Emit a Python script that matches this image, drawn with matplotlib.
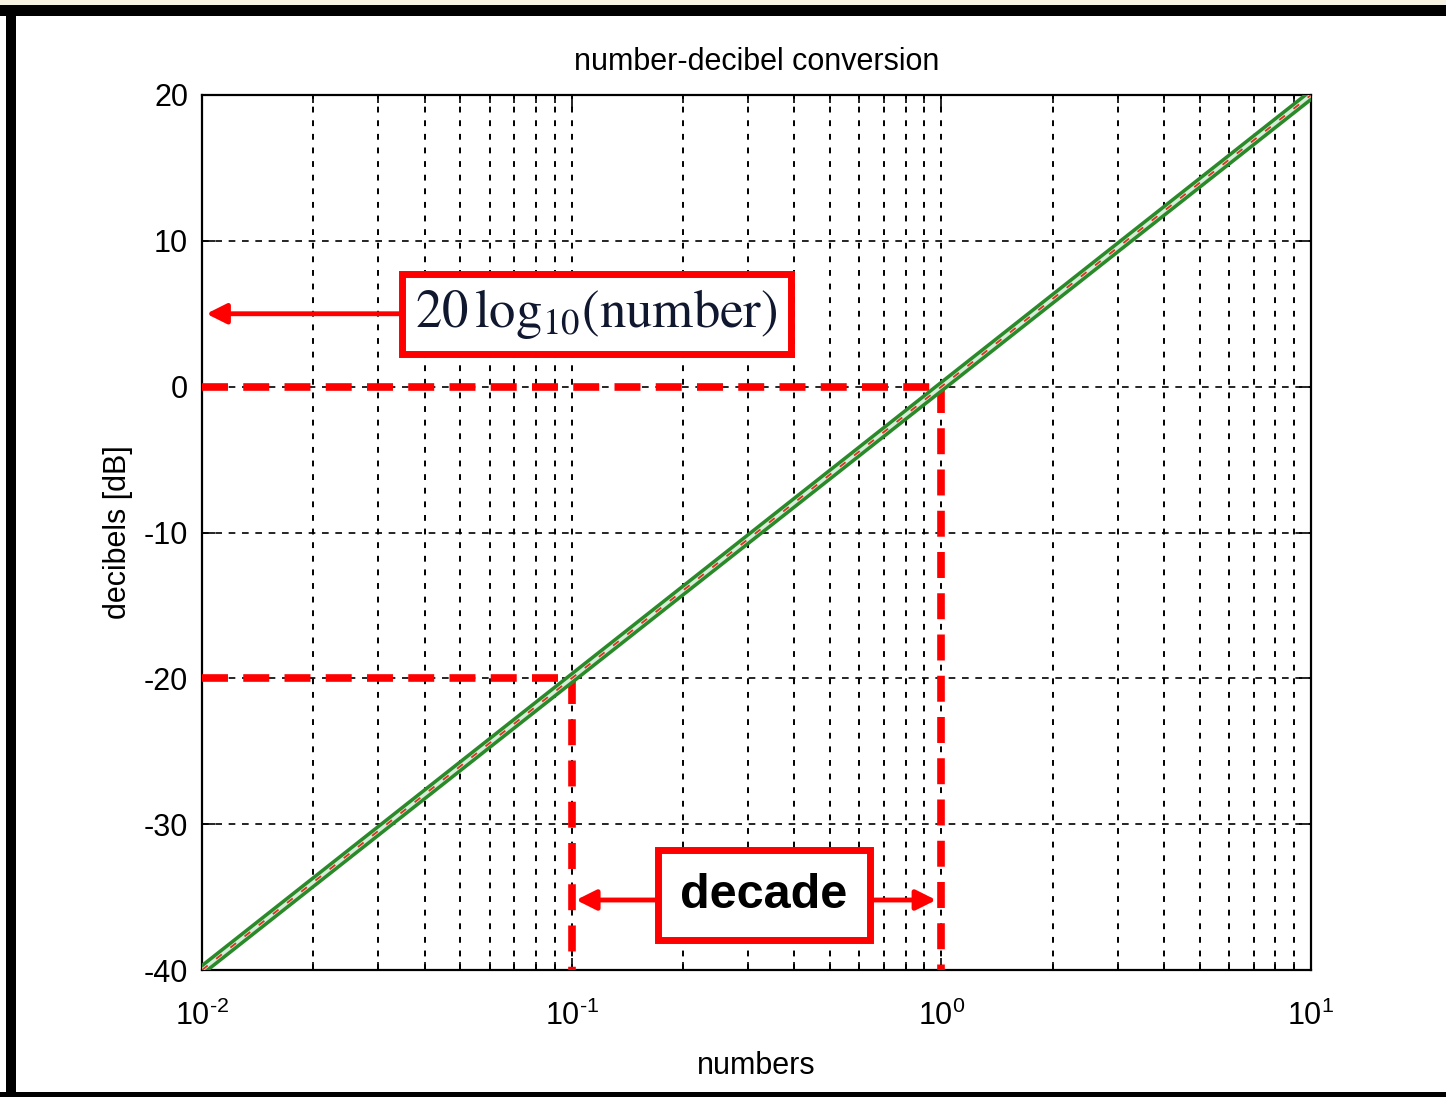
import matplotlib.pyplot as plt
import matplotlib.patches as patches
from matplotlib.ticker import FuncFormatter
import numpy as np

# numbers and their value in decibels
numbers = [0.01, 0.1, 1, 10]
decibels = [-40, -20, 0, 20]

# points marked with red guide lines
mark_x = [0.1, 1]
mark_y = [-20, 0]

y_ticks = [-40, -30, -20, -10, 0, 10, 20]

plt.rcParams['font.family'] = ['Liberation Sans', 'DejaVu Sans']
plt.rcParams['axes.unicode_minus'] = False
plt.rcParams['mathtext.fontset'] = 'custom'
plt.rcParams['mathtext.rm'] = 'Liberation Sans'
plt.rcParams['mathtext.it'] = 'Liberation Sans'
plt.rcParams['mathtext.bf'] = 'Liberation Sans:bold'

fig = plt.figure(figsize=(14.46, 10.97), dpi=100, facecolor='white')
ax = fig.add_axes([202 / 1446, 1 - 970 / 1097, 1109 / 1446, 875 / 1097])

ax.set_xscale('log')
ax.set_xlim(0.01, 10)
ax.set_ylim(-40, 20)
ax.set_yticks(y_ticks)


def decade_label(v, pos):
    e = int(round(np.log10(v)))
    return r'$\mathrm{10}^{\text{%d}}$' % e


ax.xaxis.set_major_formatter(FuncFormatter(decade_label))

# dashed grid on major and minor decades
ax.grid(True, which='both', axis='x', color='black', linestyle=(0, (3, 4)), linewidth=1.4)
ax.grid(True, which='major', axis='y', color='black', linestyle=(0, (4, 4)), linewidth=1.2)

ax.tick_params(which='both', direction='in', top=True, right=True, labelsize=22)
ax.tick_params(axis='y', pad=10)
ax.tick_params(axis='x', pad=22)
ax.tick_params(which='major', length=9, width=1.2)
ax.tick_params(which='minor', length=6, width=1.2)
for s in ax.spines.values():
    s.set_linewidth(1.6)

# the conversion line: green band with a light centre and red dashes
ax.plot(numbers, decibels, color='#2a8a2a', linewidth=7.5, solid_capstyle='butt', zorder=4)
ax.plot(numbers, decibels, color='#d8ecd8', linewidth=2.4, zorder=5)
ax.plot(numbers, decibels, color='#e03020', linewidth=1.3, linestyle=(0, (4, 6)), zorder=6)

# red guides from the marked points to the axes
for mx, my in zip(mark_x, mark_y):
    ax.plot([0.01, mx], [my, my], color='red', linewidth=5.5, linestyle=(0, (3.4, 2)),
            zorder=3, clip_on=False)
    ax.plot([mx, mx], [my, -40], color='red', linewidth=5.5, linestyle=(0, (3.4, 2)),
            zorder=3, clip_on=False)

# formula label with arrow to the dB axis
ax.annotate('', xy=(0.0101, 5), xytext=(0.0493, 5),
            arrowprops=dict(arrowstyle='-|>', color='red', lw=3.5, mutation_scale=30),
            zorder=7)
ax.text(0.1165, 5.0, r'$\mathrm{20\,log_{10}(number)}$', fontsize=38,
        ha='center', va='center', color='#101830', math_fontfamily='stix',
        bbox=dict(boxstyle='square,pad=0.25', facecolor='white', edgecolor='red', linewidth=5),
        zorder=8)

# decade label with arrows to both guides
ax.annotate('', xy=(0.101, -35.2), xytext=(0.205, -35.2),
            arrowprops=dict(arrowstyle='-|>', color='red', lw=3.5, mutation_scale=30),
            zorder=7)
ax.annotate('', xy=(0.985, -35.2), xytext=(0.53, -35.2),
            arrowprops=dict(arrowstyle='-|>', color='red', lw=3.5, mutation_scale=30),
            zorder=7)
ax.text(0.3313, -34.86, 'decade', fontsize=35, fontweight='bold', ha='center', va='center',
        color='black',
        bbox=dict(boxstyle='square,pad=0.46', facecolor='white', edgecolor='red', linewidth=5),
        zorder=8)

ax.set_title('number-decibel conversion', fontsize=22, pad=18)
ax.set_xlabel('numbers', fontsize=22, labelpad=14)
ax.set_ylabel('decibels [dB]', fontsize=22, labelpad=8)

# black frame round the figure
fig.patches.append(patches.Rectangle((0, 1 - 5 / 1097), 1, 5 / 1097, transform=fig.transFigure,
                                     facecolor='#f6f2e2', edgecolor='none'))
fig.patches.append(patches.Rectangle((0, 1 - 16 / 1097), 1, 11 / 1097, transform=fig.transFigure,
                                     facecolor='black', edgecolor='none'))
fig.patches.append(patches.Rectangle((6 / 1446, 0), 10 / 1446, 1 - 5 / 1097, transform=fig.transFigure,
                                     facecolor='black', edgecolor='none'))
fig.patches.append(patches.Rectangle((0, 0), 1, 5 / 1097, transform=fig.transFigure,
                                     facecolor='black', edgecolor='none'))

fig.savefig('out.png', dpi=100, facecolor='white')
